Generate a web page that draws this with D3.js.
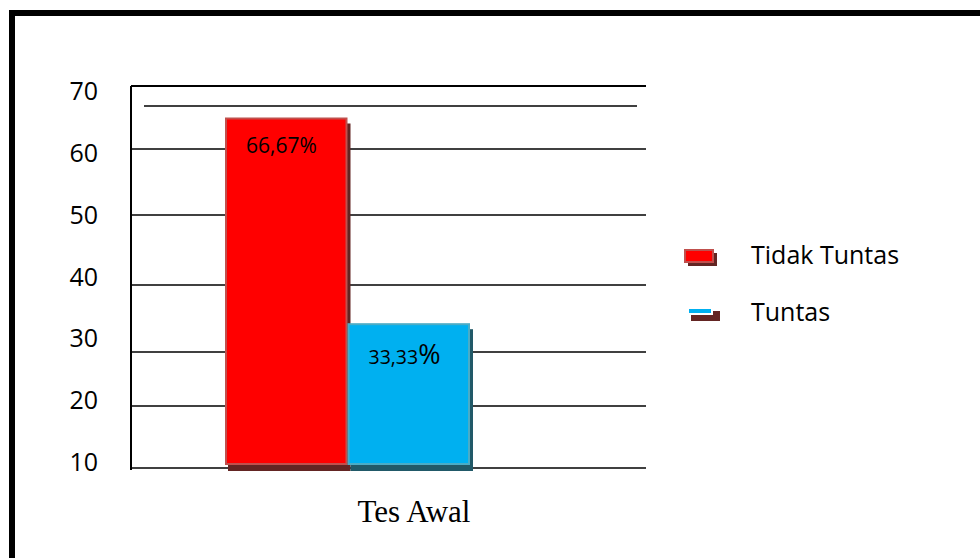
<!DOCTYPE html>
<html>
<head>
<meta charset="utf-8">
<script src="https://cdn.jsdelivr.net/npm/d3@7"></script>
<style>
  html, body { margin: 0; padding: 0; background: #fff; overflow: hidden; }
  svg { display: block; }
</style>
</head>
<body>
<div id="chart"></div>
<script>
// data
var groups = ["Tes Awal"];
var seriesNames = ["Tidak Tuntas", "Tuntas"];
var seriesValues = [65, 34.3];
var valueLabels = ["66,67", "33,33"];
var yTicks = [10, 20, 30, 40, 50, 60, 70];

var W = 980, H = 558;
var fills   = ["#ff0000", "#00b0f0"];
var borders = ["#c0504d", "#4bacc6"];
var shadows = ["#632523", "#215968"];

var svg = d3.select("#chart").append("svg")
  .attr("width", W).attr("height", H);

// frame
svg.append("rect")
  .attr("x", 12).attr("y", 13)
  .attr("width", W + 20).attr("height", H + 20)
  .attr("fill", "none").attr("stroke", "#000").attr("stroke-width", 6);

var plotLeft = 131, plotRight = 646;

// the gridlines in the original are unevenly spaced
var y = d3.scaleLinear()
  .domain(yTicks)
  .range([468, 406, 352, 285, 215, 149, 86]);
// ...while the tick labels are evenly spaced
var yLabel = d3.scaleLinear()
  .domain([10, 70])
  .range([462, 91]);

var x = d3.scaleBand()
  .domain(seriesNames)
  .range([225, 470])
  .paddingInner(0);

// gridlines
svg.append("g").selectAll("line")
  .data(yTicks)
  .join("line")
  .attr("x1", plotLeft).attr("x2", plotRight)
  .attr("y1", function(d) { return y(d); })
  .attr("y2", function(d) { return y(d); })
  .attr("stroke", "#000")
  .attr("stroke-width", function(d) { return d === 70 ? 2 : 1.6; });

// inner top line
svg.append("line")
  .attr("x1", 144).attr("x2", 637)
  .attr("y1", y(70) + 20).attr("y2", y(70) + 20)
  .attr("stroke", "#000").attr("stroke-width", 1.5);

// value axis line
svg.append("line")
  .attr("x1", plotLeft).attr("x2", plotLeft)
  .attr("y1", y(70)).attr("y2", y(10) + 2)
  .attr("stroke", "#000").attr("stroke-width", 2);

// tick labels
svg.append("g").selectAll("text")
  .data(yTicks)
  .join("text")
  .attr("x", 98)
  .attr("y", function(d) { return yLabel(d); })
  .attr("dy", "0.36em")
  .attr("text-anchor", "end")
  .attr("font-family", "'Open Sans', sans-serif")
  .attr("font-size", 25)
  .attr("fill", "#000")
  .text(function(d) { return d; });

var bars = seriesNames.map(function(name, i) {
  return { name: name, value: seriesValues[i], label: valueLabels[i], i: i };
});
var base = y(10) - 3;

// shadows
svg.append("g").selectAll("rect")
  .data(bars)
  .join("rect")
  .attr("x", function(d) { return x(d.name) + 3; })
  .attr("y", function(d) { return y(d.value) + 6; })
  .attr("width", x.bandwidth())
  .attr("height", function(d) { return base - y(d.value); })
  .attr("fill", function(d) { return shadows[d.i]; });

// bars
svg.append("g").selectAll("rect")
  .data(bars)
  .join("rect")
  .attr("x", function(d) { return x(d.name) + 1; })
  .attr("y", function(d) { return y(d.value) + 1; })
  .attr("width", x.bandwidth() - 2)
  .attr("height", function(d) { return base - y(d.value) - 2; })
  .attr("fill", function(d) { return fills[d.i]; })
  .attr("stroke", function(d) { return borders[d.i]; })
  .attr("stroke-width", 2);

// value labels
var vl = svg.append("g").selectAll("text")
  .data(bars)
  .join("text")
  .attr("x", function(d) { return x(d.name) + 21; })
  .attr("y", function(d) { return y(d.value) + (d.i === 0 ? 35 : 41); })
  .attr("font-family", "'Open Sans', sans-serif")
  .attr("fill", "#000");
vl.append("tspan")
  .attr("font-size", function(d) { return d.i === 0 ? 21 : 19.5; })
  .text(function(d) { return d.label; });
vl.append("tspan")
  .attr("font-size", function(d) { return d.i === 0 ? 21 : 27; })
  .text("%");

// category label
svg.append("text")
  .attr("x", 414)
  .attr("y", 522)
  .attr("text-anchor", "middle")
  .attr("font-family", "'Liberation Serif', 'Times New Roman', serif")
  .attr("font-size", 31)
  .attr("fill", "#000")
  .text(groups[0]);

// legend
var legend = svg.append("g").attr("transform", "translate(684,0)");
var legRows = [256, 311];
seriesNames.forEach(function(name, i) {
  var cy = legRows[i];
  var h = i === 0 ? 14 : 8;
  var w = i === 0 ? 30 : 26;
  var x0 = i === 0 ? 0 : 3;
  legend.append("rect")
    .attr("x", x0 + 4).attr("y", cy - h / 2 + 4)
    .attr("width", 29).attr("height", h - 1 + (i === 0 ? 0 : 3))
    .attr("fill", shadows[0]);
  legend.append("rect")
    .attr("x", x0 + 1).attr("y", cy - h / 2 + 1)
    .attr("width", w - 2).attr("height", h - 2)
    .attr("fill", fills[i])
    .attr("stroke", i === 0 ? borders[0] : "#fff")
    .attr("stroke-width", 2);
  legend.append("text")
    .attr("x", 67)
    .attr("y", cy + (i === 0 ? 8 : 10))
    .attr("font-family", "'Open Sans', sans-serif")
    .attr("font-size", 25)
    .attr("fill", "#000")
    .text(name);
});
</script>
</body>
</html>
